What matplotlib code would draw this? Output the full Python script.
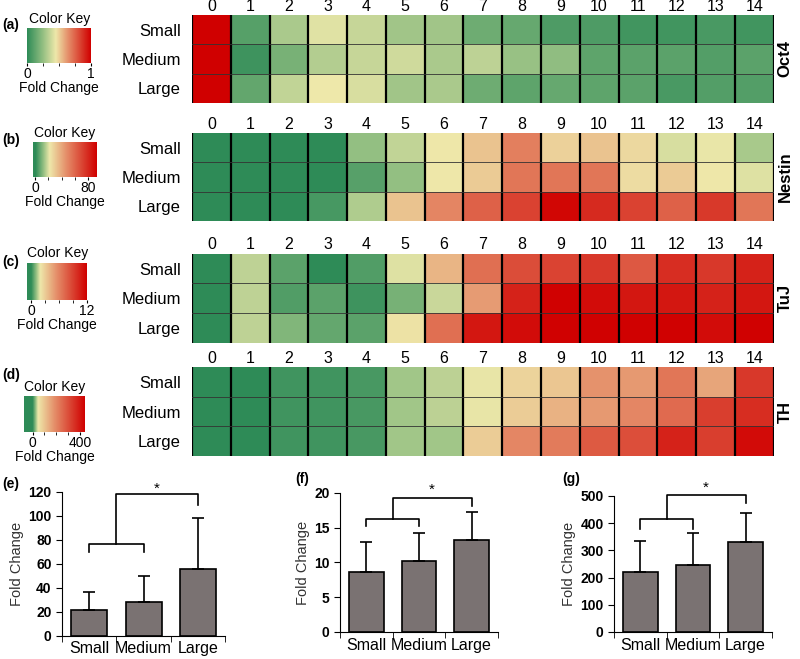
import numpy as np
import matplotlib
matplotlib.use("Agg")
import matplotlib.pyplot as plt
from matplotlib.colors import LinearSegmentedColormap, Normalize

plt.rcParams['font.family'] = ['Liberation Sans', 'DejaVu Sans']

days = [str(d) for d in range(15)]
sizes = ['Small', 'Medium', 'Large']

# heatmap values (fold change), rows: Small, Medium, Large
oct4 = [[1.0, 0.10, 0.30, 0.42, 0.36, 0.28, 0.28, 0.16, 0.14, 0.08, 0.08, 0.05, 0.05, 0.07, 0.05],
        [1.0, 0.04, 0.18, 0.32, 0.36, 0.38, 0.30, 0.34, 0.26, 0.24, 0.12, 0.11, 0.11, 0.09, 0.11],
        [1.0, 0.13, 0.35, 0.45, 0.40, 0.28, 0.30, 0.16, 0.12, 0.14, 0.12, 0.11, 0.07, 0.09, 0.09]]
nestin = [[0, 0, 0, 0, 12, 17, 22, 32, 52, 28, 32, 26, 19, 21, 14],
          [0, 0, 0, 0, 5, 12, 22, 30, 55, 55, 55, 25, 30, 22, 20],
          [0, 0, 0, 3, 15, 32, 50, 62, 72, 92, 80, 72, 62, 75, 55]]
tuj = [[0, 1.5, 0.5, 0.0, 0.4, 1.8, 4.0, 7.0, 8.5, 9.0, 9.5, 8.0, 10.0, 9.5, 10.5],
       [0, 1.5, 0.4, 0.5, 0.2, 0.8, 1.6, 5.0, 10.5, 12.0, 11.5, 11.0, 11.0, 10.5, 11.0],
       [0, 1.5, 0.9, 0.6, 0.5, 2.2, 7.0, 11.0, 11.5, 12.0, 12.0, 12.0, 12.0, 11.5, 12.0]]
th = [[0, 0, 5, 5, 8, 30, 35, 45, 80, 100, 180, 170, 230, 150, 340],
      [0, 0, 5, 5, 8, 30, 35, 45, 90, 130, 170, 200, 250, 330, 360],
      [0, 0, 5, 5, 8, 30, 30, 90, 200, 220, 280, 300, 380, 330, 420]]

genes = ['Oct4', 'Nestin', 'TuJ', 'TH']
heat_data = [oct4, nestin, tuj, th]
key_ranges = [(0, 1), (-4, 94), (-0.9, 12.1), (-72, 441)]
key_ticks = [[0, 1], [0, 80], [0, 12], [0, 400]]
yellow_at = [0.45, 0.26, 0.22, 0.23]

# bar charts
bar_means = [[22, 28, 56], [8.6, 10.2, 13.3], [220, 245, 330]]
bar_errs = [[15, 22, 42], [4.3, 4.1, 4.0], [115, 120, 107]]
bar_ylims = [(0, 120), (0, 20), (0, 500)]
bar_yticks = [np.arange(0, 121, 20), np.arange(0, 21, 5), np.arange(0, 501, 100)]

fig = plt.figure(figsize=(8, 6.59), dpi=100)

heat_pos = [[0.24, 0.844, 0.727, 0.133],
            [0.24, 0.665, 0.727, 0.133],
            [0.24, 0.480, 0.727, 0.135],
            [0.24, 0.308, 0.727, 0.135]]
key_pos = [[0.034, 0.904, 0.080, 0.053],
           [0.041, 0.731, 0.080, 0.053],
           [0.034, 0.545, 0.075, 0.056],
           [0.030, 0.344, 0.076, 0.055]]
panel_lbl = ['(a)', '(b)', '(c)', '(d)']
lbl_y = [0.962, 0.787, 0.603, 0.431]

green = '#2e8b57'
yellow = '#eee8aa'
red = '#d00000'

for i in range(4):
    lo, hi = key_ranges[i]
    z = (0 - lo) / (hi - lo)
    ya = yellow_at[i]
    cmap = LinearSegmentedColormap.from_list(
        'gyr%d' % i, [(0, green), (z, green), (z + (ya - z) * 0.55, '#93bf82'), (ya, yellow),
                      (ya + (1 - ya) * 0.35, '#e58f6a'), (1, red)])
    norm = Normalize(lo, hi)
    vals = np.array(heat_data[i], dtype=float)
    ax = fig.add_axes(heat_pos[i])
    ax.pcolormesh(np.arange(16), np.arange(4), vals, cmap=cmap, norm=norm)
    ax.set_xlim(0, 15)
    ax.set_ylim(3, 0)
    for x in range(16):
        ax.axvline(x, color='black', lw=1.6)
    for y in [1, 2]:
        ax.axhline(y, color='#333333', lw=0.6)
    for s in ax.spines.values():
        s.set_visible(False)
    ax.set_xticks(np.arange(15) + 0.5)
    ax.set_xticklabels(days, fontsize=11.5)
    ax.xaxis.tick_top()
    ax.set_yticks(np.arange(3) + 0.5)
    ax.set_yticklabels(sizes, fontsize=12)
    ax.tick_params(length=0, pad=1)
    ax.tick_params(axis='y', pad=8)
    ax.text(1.02, 0.5, genes[i], transform=ax.transAxes, rotation=90,
            ha='center', va='center', fontsize=12, fontweight='bold')

    cax = fig.add_axes(key_pos[i])
    grad = np.linspace(lo, hi, 256).reshape(1, -1)
    cax.imshow(grad, aspect='auto', cmap=cmap, norm=norm, extent=[lo, hi, 0, 1])
    cax.set_yticks([])
    cax.set_xticks(key_ticks[i])
    cax.set_xticks(np.linspace(key_ticks[i][0], key_ticks[i][1], 5), minor=True)
    cax.tick_params(axis='x', labelsize=10, length=2, pad=1)
    cax.tick_params(axis='x', which='minor', length=2)
    for s in cax.spines.values():
        s.set_visible(False)
    cax.set_title('Color Key', fontsize=10, pad=4)
    cax.set_xlabel('Fold Change', fontsize=10, labelpad=0)
    fig.text(0.003, lbl_y[i], panel_lbl[i], fontsize=10, fontweight='bold', va='center')

bar_pos = [[0.0775, 0.035, 0.204, 0.2185],
           [0.425, 0.041, 0.1975, 0.211],
           [0.7675, 0.041, 0.1975, 0.2064]]
bar_lbl = ['(e)', '(f)', '(g)']
lbl_xy = [(0.003, 0.26), (0.369, 0.267), (0.703, 0.267)]
# bracket levels: (small-medium level, drop, top level, large drop, star y)
brackets = [(77, 70, 118, 109, 123), (16.3, 15.2, 19.2, 18.1, 20.4), (415, 380, 505, 475, 530)]

for i in range(3):
    ax = fig.add_axes(bar_pos[i])
    x = np.arange(3)
    ax.bar(x, bar_means[i], width=0.66, color='#7a7272', edgecolor='black', lw=1.2)
    ax.errorbar(x, bar_means[i], yerr=[[0, 0, 0], bar_errs[i]], fmt='none',
                ecolor='black', elinewidth=1.2, capsize=4, capthick=1.2)
    ax.set_xlim(-0.5, 2.5)
    ax.set_ylim(*bar_ylims[i])
    ax.set_yticks(bar_yticks[i])
    ax.set_yticklabels([str(v) for v in bar_yticks[i]], fontsize=10, fontweight='bold')
    ax.set_xticks(x)
    ax.set_xticklabels(sizes, fontsize=11.5)
    ax.set_xticks([-0.5, 0.5, 1.5, 2.5], minor=True)
    ax.tick_params(axis='x', which='major', length=0, pad=4)
    ax.tick_params(axis='x', which='minor', length=4)
    ax.tick_params(axis='y', length=4)
    ax.spines['top'].set_visible(False)
    ax.spines['right'].set_visible(False)
    ax.set_ylabel('Fold Change', fontsize=10.5, color='#333333', labelpad=3)
    lv, dr, tp, ld, sy = brackets[i]
    ax.plot([0, 0, 1, 1], [dr, lv, lv, dr], color='black', lw=1.2, clip_on=False)
    ax.plot([0.5, 0.5, 2, 2], [lv, tp, tp, ld], color='black', lw=1.2, clip_on=False)
    ax.text(1.25, sy, '*', ha='center', va='center', fontsize=11)
    fig.text(lbl_xy[i][0], lbl_xy[i][1], bar_lbl[i], fontsize=10, fontweight='bold')

fig.savefig('out.png', dpi=100)
